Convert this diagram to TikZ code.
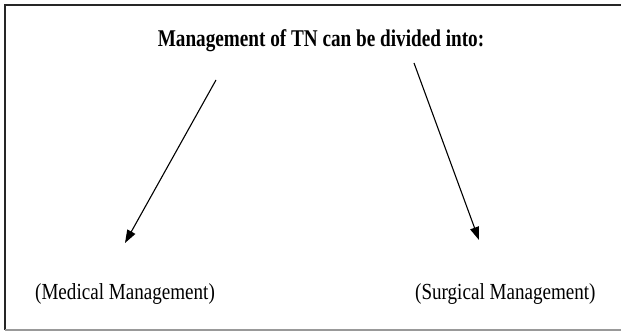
\documentclass[tikz,border=0pt]{standalone}
\usepackage{fontspec}
\setmainfont{Liberation Serif}
\usetikzlibrary{arrows.meta}
\tikzset{
  title/.style={font=\fontsize{24}{27}\selectfont\bfseries, xscale=0.80, inner sep=0pt, anchor=base},
  label/.style={font=\fontsize{23}{26}\selectfont, xscale=0.83, inner sep=0pt, anchor=base west},
  branch/.style={line width=1.1pt, -{Triangle[length=13pt, width=9pt]}},
  frame/.style={line width=1.6pt, black!85},
}
\begin{document}
\begin{tikzpicture}[x=1pt, y=-1pt]
  \useasboundingbox (0,0) rectangle (621,331);
  % page frame: left and top dark, bottom grey, open on the right
  \draw[frame] (5,330) -- (5,5) -- (621,5);
  \draw[line width=1.2pt, black!40] (5,330) -- (621,330);

  \node[title] (head) at (321,47) {Management of TN can be divided into:};
  \node[label] (med) at (35,299) {(Medical Management)};
  \node[label] (surg) at (415,299) {(Surgical Management)};

  \coordinate (lstart) at (216,80);
  \coordinate (lend) at (125,243);
  \coordinate (rstart) at (414,63);
  \coordinate (rend) at (479,240);
  \draw[branch] (lstart) -- (lend);
  \draw[branch] (rstart) -- (rend);
\end{tikzpicture}
\end{document}
